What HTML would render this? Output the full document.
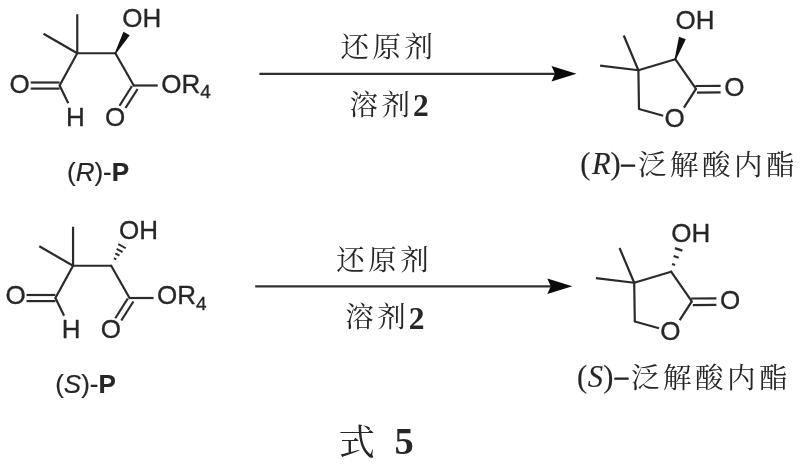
<!DOCTYPE html>
<html lang="zh-CN">
<head>
<meta charset="utf-8">
<title>式 5</title>
<style>
html,body{margin:0;padding:0;background:#fff;}
body{width:800px;height:468px;overflow:hidden;}
svg{display:block;filter:blur(0.45px);}
text{white-space:pre;}
</style>
</head>
<body>
<svg width="800" height="468" viewBox="0 0 800 468">
<rect x="0" y="0" width="800" height="468" fill="#ffffff"/>
<line x1="77.25" y1="53.25" x2="77.25" y2="14.25" stroke="#2b2b2b" stroke-width="2.2" stroke-linecap="butt"/>
<line x1="77.25" y1="53.25" x2="43.50" y2="33.75" stroke="#2b2b2b" stroke-width="2.2" stroke-linecap="butt"/>
<line x1="77.25" y1="53.25" x2="115.40" y2="53.25" stroke="#2b2b2b" stroke-width="2.2" stroke-linecap="butt"/>
<line x1="77.25" y1="53.25" x2="59.60" y2="85.50" stroke="#2b2b2b" stroke-width="2.2" stroke-linecap="round"/>
<line x1="30.75" y1="82.50" x2="59.60" y2="82.50" stroke="#2b2b2b" stroke-width="2.2" stroke-linecap="butt"/>
<line x1="30.75" y1="88.60" x2="59.60" y2="88.60" stroke="#2b2b2b" stroke-width="2.2" stroke-linecap="butt"/>
<line x1="59.60" y1="85.50" x2="68.30" y2="103.20" stroke="#2b2b2b" stroke-width="2.2" stroke-linecap="butt"/>
<line x1="115.40" y1="53.25" x2="133.75" y2="85.50" stroke="#2b2b2b" stroke-width="2.2" stroke-linecap="round"/>
<line x1="133.75" y1="85.50" x2="157.75" y2="85.50" stroke="#2b2b2b" stroke-width="2.2" stroke-linecap="butt"/>
<line x1="132.00" y1="86.00" x2="119.50" y2="105.75" stroke="#2b2b2b" stroke-width="2.2" stroke-linecap="butt"/>
<line x1="137.60" y1="89.00" x2="125.50" y2="108.00" stroke="#2b2b2b" stroke-width="2.2" stroke-linecap="butt"/>
<polygon points="116.01,53.59 129.74,35.17 123.46,31.63 114.79,52.91" fill="#111"/>
<text x="9.60" y="92.50" font-family='"Liberation Sans", sans-serif' font-size="26" stroke="#262626" stroke-width="0.3" stroke-linejoin="round" fill="#262626" >O</text>
<text x="66.00" y="125.70" font-family='"Liberation Sans", sans-serif' font-size="26" stroke="#262626" stroke-width="0.3" stroke-linejoin="round" fill="#262626" >H</text>
<text x="104.90" y="125.70" font-family='"Liberation Sans", sans-serif' font-size="26" stroke="#262626" stroke-width="0.3" stroke-linejoin="round" fill="#262626" >O</text>
<text x="122.20" y="26.80" font-family='"Liberation Sans", sans-serif' font-size="26" stroke="#262626" stroke-width="0.3" stroke-linejoin="round" fill="#262626" >OH</text>
<text x="161.30" y="92.50" font-family='"Liberation Sans", sans-serif' font-size="26" stroke="#262626" stroke-width="0.3" stroke-linejoin="round" fill="#262626" >OR<tspan font-size="19" dy="5.6">4</tspan></text>
<line x1="638.40" y1="70.25" x2="623.75" y2="35.50" stroke="#2b2b2b" stroke-width="2.2" stroke-linecap="butt"/>
<line x1="638.40" y1="70.25" x2="600.10" y2="65.70" stroke="#2b2b2b" stroke-width="2.2" stroke-linecap="butt"/>
<line x1="638.40" y1="70.25" x2="675.30" y2="59.20" stroke="#2b2b2b" stroke-width="2.2" stroke-linecap="round"/>
<line x1="675.30" y1="59.20" x2="696.00" y2="88.80" stroke="#2b2b2b" stroke-width="2.2" stroke-linecap="round"/>
<line x1="638.40" y1="70.25" x2="639.00" y2="109.00" stroke="#2b2b2b" stroke-width="2.2" stroke-linecap="round"/>
<line x1="639.00" y1="109.00" x2="663.20" y2="115.80" stroke="#2b2b2b" stroke-width="2.2" stroke-linecap="butt"/>
<line x1="696.00" y1="88.80" x2="683.90" y2="107.60" stroke="#2b2b2b" stroke-width="2.2" stroke-linecap="butt"/>
<line x1="695.30" y1="86.00" x2="720.60" y2="85.80" stroke="#2b2b2b" stroke-width="2.2" stroke-linecap="butt"/>
<line x1="697.00" y1="92.60" x2="720.60" y2="92.40" stroke="#2b2b2b" stroke-width="2.2" stroke-linecap="butt"/>
<polygon points="675.96,59.42 685.81,39.14 678.99,36.86 674.64,58.98" fill="#111"/>
<text x="675.50" y="28.80" font-family='"Liberation Sans", sans-serif' font-size="26" stroke="#262626" stroke-width="0.3" stroke-linejoin="round" fill="#262626" >OH</text>
<text x="724.30" y="96.40" font-family='"Liberation Sans", sans-serif' font-size="26" stroke="#262626" stroke-width="0.3" stroke-linejoin="round" fill="#262626" >O</text>
<text x="664.50" y="127.00" font-family='"Liberation Sans", sans-serif' font-size="26" stroke="#262626" stroke-width="0.3" stroke-linejoin="round" fill="#262626" >O</text>
<line x1="259.40" y1="73.90" x2="556.00" y2="73.90" stroke="#303030" stroke-width="2.3" stroke-linecap="butt"/>
<polygon points="576.50,73.70 551.50,65.90 555.00,73.70 551.50,81.50" fill="#0a0a0a"/>
<text x="340.50" y="57.20" font-family='"Liberation Serif", "Noto Serif CJK SC", serif' font-size="28.5" font-weight="400" letter-spacing="3.5" fill="#262626" >还原剂</text>
<text x="349.50" y="114.90" font-family='"Liberation Serif", "Noto Serif CJK SC", serif' font-size="28.5" font-weight="400" letter-spacing="3.5" fill="#262626" >溶剂</text>
<text x="413.00" y="116.00" font-family='"Liberation Serif", "Noto Serif CJK SC", serif' font-size="31.5" font-weight="700" fill="#262626" >2</text>
<text x="67.00" y="180.80" font-family='"Liberation Sans", sans-serif' font-size="26" stroke="#262626" stroke-width="0.2" stroke-linejoin="round" fill="#262626" >(<tspan font-style="italic">R</tspan>)-<tspan font-weight="700">P</tspan></text>
<text x="580.30" y="174.20" font-family='"Liberation Serif", "Noto Serif CJK SC", serif' font-size="30.5" stroke="#262626" stroke-width="0.15" stroke-linejoin="round" fill="#262626" >(<tspan font-style="italic" dx="1.5">R</tspan><tspan dx="0.0">)</tspan></text>
<text x="621.60" y="172.00" font-family='"Liberation Serif", "Noto Serif CJK SC", serif' font-size="26" stroke="#262626" stroke-width="1.1" stroke-linejoin="round" fill="#262626" >–</text>
<text x="638.00" y="175.20" font-family='"Liberation Serif", "Noto Serif CJK SC", serif' font-size="28.5" font-weight="400" letter-spacing="3.5" fill="#262626" >泛解酸内酯</text>
<line x1="73.05" y1="265.75" x2="73.05" y2="226.75" stroke="#2b2b2b" stroke-width="2.2" stroke-linecap="butt"/>
<line x1="73.05" y1="265.75" x2="39.30" y2="246.25" stroke="#2b2b2b" stroke-width="2.2" stroke-linecap="butt"/>
<line x1="73.05" y1="265.75" x2="111.20" y2="265.75" stroke="#2b2b2b" stroke-width="2.2" stroke-linecap="butt"/>
<line x1="73.05" y1="265.75" x2="55.40" y2="298.00" stroke="#2b2b2b" stroke-width="2.2" stroke-linecap="round"/>
<line x1="26.55" y1="295.00" x2="55.40" y2="295.00" stroke="#2b2b2b" stroke-width="2.2" stroke-linecap="butt"/>
<line x1="26.55" y1="301.10" x2="55.40" y2="301.10" stroke="#2b2b2b" stroke-width="2.2" stroke-linecap="butt"/>
<line x1="55.40" y1="298.00" x2="64.10" y2="315.70" stroke="#2b2b2b" stroke-width="2.2" stroke-linecap="butt"/>
<line x1="111.20" y1="265.75" x2="129.55" y2="298.00" stroke="#2b2b2b" stroke-width="2.2" stroke-linecap="round"/>
<line x1="129.55" y1="298.00" x2="153.55" y2="298.00" stroke="#2b2b2b" stroke-width="2.2" stroke-linecap="butt"/>
<line x1="127.80" y1="298.50" x2="115.30" y2="318.25" stroke="#2b2b2b" stroke-width="2.2" stroke-linecap="butt"/>
<line x1="133.40" y1="301.50" x2="121.30" y2="320.50" stroke="#2b2b2b" stroke-width="2.2" stroke-linecap="butt"/>
<line x1="116.20" y1="259.37" x2="113.92" y2="258.12" stroke="#2b2b2b" stroke-width="1.9" stroke-linecap="butt"/>
<line x1="119.48" y1="255.70" x2="115.28" y2="253.38" stroke="#2b2b2b" stroke-width="1.9" stroke-linecap="butt"/>
<line x1="122.58" y1="252.15" x2="116.62" y2="248.87" stroke="#2b2b2b" stroke-width="1.9" stroke-linecap="butt"/>
<line x1="125.78" y1="248.21" x2="118.25" y2="244.06" stroke="#2b2b2b" stroke-width="1.9" stroke-linecap="butt"/>
<text x="5.40" y="304.30" font-family='"Liberation Sans", sans-serif' font-size="26" stroke="#262626" stroke-width="0.3" stroke-linejoin="round" fill="#262626" >O</text>
<text x="61.80" y="337.50" font-family='"Liberation Sans", sans-serif' font-size="26" stroke="#262626" stroke-width="0.3" stroke-linejoin="round" fill="#262626" >H</text>
<text x="100.70" y="337.50" font-family='"Liberation Sans", sans-serif' font-size="26" stroke="#262626" stroke-width="0.3" stroke-linejoin="round" fill="#262626" >O</text>
<text x="119.00" y="238.60" font-family='"Liberation Sans", sans-serif' font-size="26" stroke="#262626" stroke-width="0.3" stroke-linejoin="round" fill="#262626" >OH</text>
<text x="157.10" y="304.30" font-family='"Liberation Sans", sans-serif' font-size="26" stroke="#262626" stroke-width="0.3" stroke-linejoin="round" fill="#262626" >OR<tspan font-size="19" dy="5.6">4</tspan></text>
<line x1="634.20" y1="282.75" x2="619.55" y2="248.00" stroke="#2b2b2b" stroke-width="2.2" stroke-linecap="butt"/>
<line x1="634.20" y1="282.75" x2="595.90" y2="278.20" stroke="#2b2b2b" stroke-width="2.2" stroke-linecap="butt"/>
<line x1="634.20" y1="282.75" x2="671.10" y2="271.70" stroke="#2b2b2b" stroke-width="2.2" stroke-linecap="round"/>
<line x1="671.10" y1="271.70" x2="691.80" y2="301.30" stroke="#2b2b2b" stroke-width="2.2" stroke-linecap="round"/>
<line x1="634.20" y1="282.75" x2="634.80" y2="321.50" stroke="#2b2b2b" stroke-width="2.2" stroke-linecap="round"/>
<line x1="634.80" y1="321.50" x2="659.00" y2="328.30" stroke="#2b2b2b" stroke-width="2.2" stroke-linecap="butt"/>
<line x1="691.80" y1="301.30" x2="679.70" y2="320.10" stroke="#2b2b2b" stroke-width="2.2" stroke-linecap="butt"/>
<line x1="691.10" y1="298.50" x2="716.40" y2="298.30" stroke="#2b2b2b" stroke-width="2.2" stroke-linecap="butt"/>
<line x1="692.80" y1="305.10" x2="716.40" y2="304.90" stroke="#2b2b2b" stroke-width="2.2" stroke-linecap="butt"/>
<line x1="675.05" y1="265.01" x2="672.02" y2="263.99" stroke="#2b2b2b" stroke-width="2.2" stroke-linecap="butt"/>
<line x1="678.69" y1="257.69" x2="673.57" y2="255.96" stroke="#2b2b2b" stroke-width="2.2" stroke-linecap="butt"/>
<line x1="682.35" y1="250.59" x2="674.96" y2="248.09" stroke="#2b2b2b" stroke-width="2.2" stroke-linecap="butt"/>
<text x="671.30" y="242.00" font-family='"Liberation Sans", sans-serif' font-size="26" stroke="#262626" stroke-width="0.3" stroke-linejoin="round" fill="#262626" >OH</text>
<text x="720.10" y="308.90" font-family='"Liberation Sans", sans-serif' font-size="26" stroke="#262626" stroke-width="0.3" stroke-linejoin="round" fill="#262626" >O</text>
<text x="660.30" y="339.50" font-family='"Liberation Sans", sans-serif' font-size="26" stroke="#262626" stroke-width="0.3" stroke-linejoin="round" fill="#262626" >O</text>
<line x1="255.20" y1="286.40" x2="551.80" y2="286.40" stroke="#303030" stroke-width="2.3" stroke-linecap="butt"/>
<polygon points="572.30,286.20 547.30,278.40 550.80,286.20 547.30,294.00" fill="#0a0a0a"/>
<text x="336.30" y="269.70" font-family='"Liberation Serif", "Noto Serif CJK SC", serif' font-size="28.5" font-weight="400" letter-spacing="3.5" fill="#262626" >还原剂</text>
<text x="345.30" y="327.40" font-family='"Liberation Serif", "Noto Serif CJK SC", serif' font-size="28.5" font-weight="400" letter-spacing="3.5" fill="#262626" >溶剂</text>
<text x="408.80" y="328.50" font-family='"Liberation Serif", "Noto Serif CJK SC", serif' font-size="31.5" font-weight="700" fill="#262626" >2</text>
<text x="55.20" y="393.30" font-family='"Liberation Sans", sans-serif' font-size="26" stroke="#262626" stroke-width="0.2" stroke-linejoin="round" fill="#262626" >(<tspan font-style="italic">S</tspan>)-<tspan font-weight="700">P</tspan></text>
<text x="577.10" y="386.70" font-family='"Liberation Serif", "Noto Serif CJK SC", serif' font-size="30.5" stroke="#262626" stroke-width="0.15" stroke-linejoin="round" fill="#262626" >(<tspan font-style="italic" dx="0.6">S</tspan><tspan dx="0.2">)</tspan></text>
<text x="615.00" y="384.50" font-family='"Liberation Serif", "Noto Serif CJK SC", serif' font-size="26" stroke="#262626" stroke-width="1.1" stroke-linejoin="round" fill="#262626" >–</text>
<text x="631.00" y="387.70" font-family='"Liberation Serif", "Noto Serif CJK SC", serif' font-size="28.5" font-weight="400" letter-spacing="3.5" fill="#262626" >泛解酸内酯</text>
<text x="338.50" y="454.50" font-family='"Liberation Serif", "Noto Serif CJK SC", serif' font-size="36.5" font-weight="400" fill="#262626" >式</text>
<text x="394.50" y="454.00" font-family='"Liberation Serif", "Noto Serif CJK SC", serif' font-size="38.5" font-weight="700" fill="#262626" >5</text>
</svg>
</body>
</html>
